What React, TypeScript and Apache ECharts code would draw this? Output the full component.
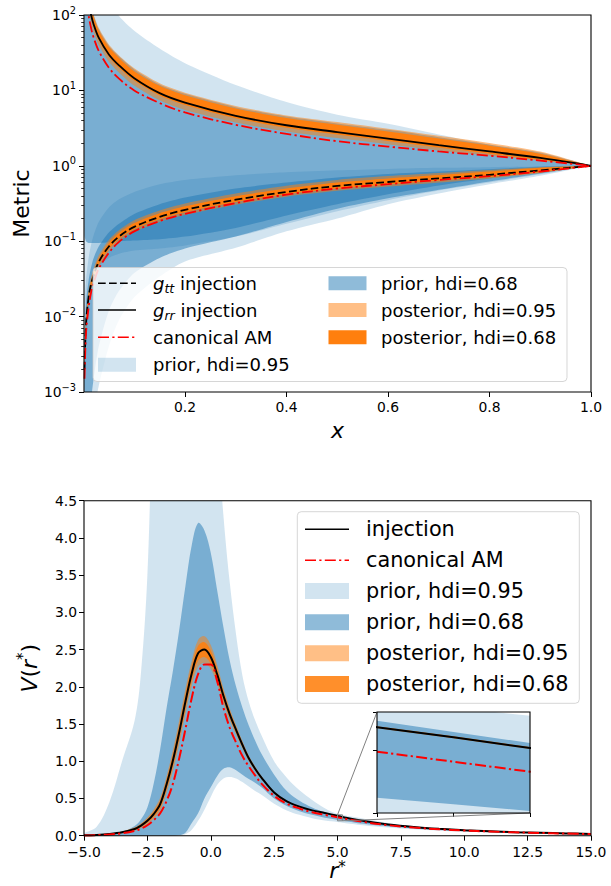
import React, { useEffect, useRef } from 'react';
import * as echarts from 'echarts';

const FONT = 'DejaVu Sans';

// ---------------- top panel: metric vs x ----------------
const X_GRID = [0.002, 0.005, 0.01, 0.015, 0.02, 0.03, 0.05, 0.07, 0.1, 0.15, 0.2, 0.3, 0.4, 0.5, 0.6, 0.7, 0.8, 0.9, 1.0];
const GTT_INJ = [0.002, 0.008, 0.018, 0.027, 0.035, 0.053, 0.085, 0.115, 0.155, 0.21, 0.26, 0.355, 0.45, 0.54, 0.61, 0.68, 0.76, 0.87, 1.0];
const GRR_INJ = [700, 300, 150, 100, 75, 50, 30, 21.5, 14.5, 9.2, 6.9, 4.6, 3.45, 2.8, 2.3, 1.88, 1.55, 1.27, 1.0];
const GTT_AM = [0.0015, 0.006, 0.013, 0.021, 0.028, 0.043, 0.07, 0.098, 0.135, 0.185, 0.23, 0.32, 0.415, 0.5, 0.57, 0.65, 0.73, 0.84, 1.0];
const GRR_AM = [500, 200, 100, 67, 50, 33.5, 20, 14.3, 10, 6.8, 5.1, 3.5, 2.65, 2.12, 1.8, 1.55, 1.36, 1.17, 1.0];

const GRR_PRIOR95_HI = [10000, 5000, 2000, 1000, 700, 400, 170, 97, 62, 36, 23, 11.8, 7.0, 4.75, 3.6, 2.6, 1.9, 1.42, 1.0];
const GRR_PRIOR95_LO = [0.001, 0.004, 0.012, 0.022, 0.032, 0.046, 0.06, 0.068, 0.075, 0.08, 0.088, 0.115, 0.17, 0.25, 0.35, 0.47, 0.6, 0.77, 1.0];
const GRR_PRIOR68_HI = [920, 395, 197, 131, 99, 65, 39, 28.3, 19, 12, 9, 6.0, 4.5, 3.65, 3.0, 2.4, 1.92, 1.5, 1.0];
const GRR_PRIOR68_LO = [0.12, 0.1, 0.095, 0.095, 0.095, 0.095, 0.097, 0.1, 0.102, 0.106, 0.115, 0.15, 0.22, 0.31, 0.42, 0.55, 0.68, 0.83, 1.0];
const GTT_PRIOR95_HI = [0.01, 0.03, 0.06, 0.09, 0.12, 0.18, 0.28, 0.36, 0.45, 0.57, 0.65, 0.75, 0.82, 0.87, 0.91, 0.94, 0.96, 0.98, 1.0];
const GTT_PRIOR95_LO = [1e-6, 1e-5, 1e-4, 2e-4, 5e-4, 0.0012, 0.004, 0.009, 0.018, 0.034, 0.054, 0.082, 0.135, 0.2, 0.31, 0.43, 0.57, 0.74, 1.0];
const GTT_PRIOR68_HI = [0.004, 0.015, 0.03, 0.045, 0.06, 0.085, 0.13, 0.17, 0.23, 0.31, 0.38, 0.5, 0.6, 0.7, 0.78, 0.84, 0.9, 0.97, 1.0];
const GTT_PRIOR68_LO = [1e-5, 1e-4, 4e-4, 8e-4, 0.0015, 0.004, 0.012, 0.022, 0.038, 0.06, 0.08, 0.115, 0.18, 0.27, 0.37, 0.48, 0.62, 0.79, 1.0];

const GRR_POST95_HI = [945, 405, 202, 135, 101, 67.5, 40.5, 29, 19.6, 12.4, 9.3, 6.2, 4.65, 3.8, 3.1, 2.5, 2.0, 1.55, 1.0];
const GRR_POST95_LO = [560, 240, 120, 80, 60, 40, 24, 17.2, 11.6, 7.4, 5.5, 3.75, 2.85, 2.33, 1.93, 1.6, 1.37, 1.17, 1.0];
const GRR_POST68_HI = [875, 375, 188, 125, 94, 62, 37.5, 27, 18, 11.5, 8.6, 5.75, 4.3, 3.5, 2.85, 2.3, 1.85, 1.45, 1.0];
const GRR_POST68_LO = [650, 280, 140, 93, 70, 46.5, 28, 20, 13.5, 8.55, 6.4, 4.28, 3.2, 2.6, 2.14, 1.75, 1.45, 1.2, 1.0];
const GTT_POST95_HI = [0.0024, 0.0098, 0.022, 0.033, 0.043, 0.065, 0.104, 0.14, 0.19, 0.256, 0.317, 0.43, 0.545, 0.65, 0.73, 0.8, 0.88, 0.96, 1.0];
const GTT_POST95_LO = [0.0017, 0.0069, 0.0155, 0.023, 0.03, 0.0455, 0.073, 0.099, 0.133, 0.18, 0.224, 0.305, 0.39, 0.465, 0.53, 0.6, 0.68, 0.8, 1.0];
const GTT_POST68_HI = [0.0022, 0.009, 0.02, 0.03, 0.039, 0.059, 0.095, 0.129, 0.174, 0.235, 0.29, 0.395, 0.5, 0.6, 0.68, 0.755, 0.84, 0.94, 1.0];
const GTT_POST68_LO = [0.0019, 0.0074, 0.0167, 0.025, 0.0326, 0.049, 0.079, 0.107, 0.144, 0.195, 0.242, 0.33, 0.42, 0.5, 0.567, 0.635, 0.71, 0.82, 1.0];

const TOP_X_TICKS = [0.2, 0.4, 0.6, 0.8, 1.0];
const TOP_Y_TICKS = [0.001, 0.01, 0.1, 1, 10, 100];

// ---------------- bottom panel: V(r*) ----------------
const R_GRID = [-5, -4.5, -4, -3.5, -3, -2.75, -2.5, -2.25, -2, -1.75, -1.5, -1.25, -1, -0.75, -0.5, -0.25, 0, 0.25, 0.5, 0.75, 1, 1.25, 1.5, 1.75, 2, 2.5, 3, 3.5, 4, 4.5, 5, 5.1, 5.2, 6, 7, 8, 9, 10, 11, 12, 13, 14, 15];
const V_INJ = [0.005, 0.01, 0.022, 0.045, 0.09, 0.135, 0.2, 0.29, 0.42, 0.68, 1.0, 1.38, 1.8, 2.18, 2.45, 2.5, 2.4, 2.17, 1.88, 1.63, 1.42, 1.22, 1.04, 0.9, 0.78, 0.58, 0.46, 0.39, 0.34, 0.305, 0.268, 0.26, 0.2515, 0.2, 0.152, 0.118, 0.093, 0.074, 0.06, 0.048, 0.039, 0.031, 0.024];
const V_AM = [0.003, 0.007, 0.016, 0.032, 0.065, 0.095, 0.14, 0.21, 0.3, 0.46, 0.69, 1.03, 1.43, 1.85, 2.17, 2.3, 2.3, 2.08, 1.72, 1.45, 1.25, 1.07, 0.93, 0.81, 0.7, 0.535, 0.43, 0.365, 0.315, 0.28, 0.2486, 0.2406, 0.2327, 0.186, 0.141, 0.109, 0.086, 0.069, 0.056, 0.045, 0.037, 0.029, 0.022];
const V_PRIOR95_HI = [0.03, 0.12, 0.45, 1.0, 1.55, 2.2, 3.5, 6, 7, 8, 9, 9.5, 10, 10, 9.5, 8.5, 7, 5.5, 4.3, 3.4, 2.7, 2.15, 1.8, 1.55, 1.35, 1.0, 0.78, 0.61, 0.48, 0.37, 0.29, 0.2835, 0.277, 0.23, 0.17, 0.13, 0.1, 0.08, 0.065, 0.052, 0.042, 0.034, 0.027];
const V_PRIOR95_LO = [0, 0, 0, 0, 0, 0, 0, 0, 0, 0, 0.003, 0.01, 0.02, 0.08, 0.2, 0.35, 0.52, 0.68, 0.77, 0.79, 0.77, 0.72, 0.66, 0.6, 0.55, 0.43, 0.34, 0.28, 0.235, 0.205, 0.185, 0.18, 0.175, 0.14, 0.11, 0.085, 0.067, 0.053, 0.043, 0.034, 0.027, 0.021, 0.016];
const V_PRIOR68_HI = [0.01, 0.015, 0.025, 0.05, 0.13, 0.22, 0.38, 0.7, 1.15, 1.7, 2.2, 2.75, 3.35, 3.9, 4.2, 4.1, 3.8, 3.3, 2.8, 2.35, 2.0, 1.72, 1.48, 1.28, 1.1, 0.82, 0.6, 0.47, 0.38, 0.315, 0.273, 0.2642, 0.2554, 0.205, 0.156, 0.121, 0.095, 0.076, 0.062, 0.05, 0.04, 0.032, 0.025];
const V_PRIOR68_LO = [0, 0, 0, 0, 0, 0, 0, 0, 0, 0, 0, 0.005, 0.04, 0.17, 0.3, 0.5, 0.65, 0.8, 0.9, 0.92, 0.88, 0.82, 0.76, 0.71, 0.65, 0.5, 0.4, 0.33, 0.28, 0.24, 0.212, 0.207, 0.2016, 0.16, 0.125, 0.097, 0.077, 0.062, 0.05, 0.04, 0.032, 0.025, 0.019];
const V_POST95_HI = [0.007, 0.013, 0.029, 0.058, 0.114, 0.168, 0.245, 0.352, 0.505, 0.79, 1.14, 1.54, 1.97, 2.35, 2.63, 2.68, 2.56, 2.3, 1.98, 1.71, 1.485, 1.27, 1.078, 0.928, 0.8, 0.592, 0.467, 0.394, 0.3425, 0.3065, 0.2688, 0.2608, 0.2523, 0.2015, 0.1535, 0.1195, 0.0945, 0.0755, 0.0615, 0.0495, 0.0405, 0.0325, 0.0255];
const V_POST95_LO = [0.003, 0.007, 0.015, 0.032, 0.066, 0.102, 0.155, 0.228, 0.335, 0.57, 0.86, 1.22, 1.63, 2.01, 2.27, 2.32, 2.24, 2.04, 1.78, 1.55, 1.355, 1.17, 1.002, 0.872, 0.76, 0.568, 0.453, 0.386, 0.3375, 0.3035, 0.2672, 0.2592, 0.2507, 0.1985, 0.1505, 0.1165, 0.0915, 0.0725, 0.0585, 0.0465, 0.0375, 0.0295, 0.0225];
const V_POST68_HI = [0.006, 0.012, 0.026, 0.052, 0.103, 0.153, 0.225, 0.325, 0.47, 0.745, 1.08, 1.47, 1.9, 2.28, 2.55, 2.6, 2.49, 2.245, 1.94, 1.68, 1.46, 1.25, 1.062, 0.916, 0.792, 0.587, 0.464, 0.3925, 0.3415, 0.306, 0.2685, 0.2605, 0.252, 0.201, 0.153, 0.119, 0.094, 0.075, 0.061, 0.049, 0.04, 0.032, 0.025];
const V_POST68_LO = [0.004, 0.008, 0.018, 0.038, 0.077, 0.117, 0.175, 0.255, 0.37, 0.615, 0.92, 1.29, 1.7, 2.08, 2.35, 2.4, 2.31, 2.095, 1.82, 1.58, 1.38, 1.19, 1.018, 0.884, 0.768, 0.573, 0.456, 0.3875, 0.3385, 0.304, 0.2675, 0.2595, 0.251, 0.199, 0.151, 0.117, 0.092, 0.073, 0.059, 0.047, 0.038, 0.03, 0.023];

const INSET_XLIM = [5.0, 5.2];
const INSET_YLIM = [0.2, 0.28];

// ---------------- styles / layout ----------------
const C_PRIOR95 = 'rgba(31,119,180,0.2)';
const C_PRIOR68 = 'rgba(31,119,180,0.5)';
const C_POST95 = 'rgba(255,127,14,0.5)';
const C_POST68_TOP = 'rgba(255,127,14,1)';
const C_POST68_BOT = 'rgba(255,127,14,0.88)';
const DASH = [7.7, 3.3];
const DASHDOT = [11, 3.3, 2.2, 3.3];

const G_TOP = { left: 84, top: 15, width: 507, height: 377 };
const G_BOT = { left: 84, top: 500.7, width: 507, height: 335 };
const G_INS = { left: 377, top: 712, width: 153, height: 101 };

function band(xs: number[], lo: number[], hi: number[], fill: string, xi: number, yi: number, z = 2, smooth = 0) {
  return {
    type: 'custom',
    xAxisIndex: xi,
    yAxisIndex: yi,
    silent: true,
    z,
    data: [[xs[xs.length - 1], hi[hi.length - 1]]],
    renderItem: (params: any, api: any) => {
      const pts: number[][] = [];
      for (let i = 0; i < xs.length; i++) pts.push(api.coord([xs[i], hi[i]]));
      for (let i = xs.length - 1; i >= 0; i--) pts.push(api.coord([xs[i], lo[i]]));
      const cs = params.coordSys;
      return {
        type: 'polygon',
        shape: { points: pts, smooth },
        style: { fill, stroke: null, lineWidth: 0 },
        clipPath: { type: 'rect', shape: { x: cs.x, y: cs.y, width: cs.width, height: cs.height } },
      };
    },
  };
}

function curve(xs: number[], ys: number[], color: string, type: any, xi: number, yi: number, width = 1.8, smooth: number | boolean = false) {
  return {
    type: 'line',
    xAxisIndex: xi,
    yAxisIndex: yi,
    data: xs.map((x, i) => [x, ys[i]]),
    showSymbol: false,
    symbol: 'none',
    silent: true,
    clip: true,
    smooth,
    z: 5,
    lineStyle: { color, width, type },
  };
}

const minus = (s: string) => s.replace('-', '\u2212');

function legendElements(
  box: { x: number; y: number; w: number; h: number },
  items: { kind: 'line' | 'patch'; color: string; dash?: number[]; text: string; hx: number; tx: number; y: number }[],
  fontSize: number,
  handleW: number,
  patchH: number,
) {
  const rich = {
    n: { fontSize, fontFamily: FONT, fill: '#000', lineHeight: fontSize * 1.35, verticalAlign: 'middle' },
    i: { fontSize, fontFamily: FONT, fontStyle: 'italic', fill: '#000', lineHeight: fontSize * 1.35, verticalAlign: 'middle' },
    s: { fontSize: fontSize * 0.7, fontFamily: FONT, fontStyle: 'italic', fill: '#000', lineHeight: fontSize * 0.78, verticalAlign: 'bottom' },
  };
  const els: any[] = [
    {
      type: 'rect',
      z: 100,
      shape: { x: box.x, y: box.y, width: box.w, height: box.h, r: 4 },
      style: { fill: 'rgba(255,255,255,0.8)', stroke: 'rgba(204,204,204,0.8)', lineWidth: 1 },
    },
  ];
  items.forEach((it) => {
    if (it.kind === 'line') {
      els.push({
        type: 'line',
        z: 101,
        shape: { x1: it.hx, y1: it.y, x2: it.hx + handleW, y2: it.y },
        style: { stroke: it.color, lineWidth: 1.6, lineDash: it.dash || null },
      });
    } else {
      els.push({
        type: 'rect',
        z: 101,
        shape: { x: it.hx, y: it.y - patchH / 2, width: handleW, height: patchH },
        style: { fill: it.color },
      });
    }
    els.push({
      type: 'text',
      z: 101,
      x: it.tx,
      y: it.y,
      style: { text: it.text, rich, fontSize, fontFamily: FONT, fill: '#000', align: 'left', verticalAlign: 'middle' },
    });
  });
  return els;
}

export default function App() {
  const ref = useRef<HTMLDivElement>(null);
  useEffect(() => {
    if (!ref.current) return;
    const chart = echarts.init(ref.current, null, { renderer: 'svg' });

    const minorTicks: number[] = [];
    for (let k = -3; k <= 1; k++) for (let m = 2; m <= 9; m++) minorTicks.push(+(m * Math.pow(10, k)).toPrecision(3));

    const tickStyle = { color: '#000', fontSize: 13.9, fontFamily: FONT };
    const axisTick = (len: number, extra: any = {}) => ({ show: true, length: len, lineStyle: { color: '#000', width: 1 }, ...extra });
    const noLine = { show: false, onZero: false };
    const nameStyle = { fontSize: 22, fontFamily: FONT, color: '#000' };
    const gridBase = { show: true, borderColor: '#000', borderWidth: 1.1, backgroundColor: 'transparent', z: 50, containLabel: false, outerBoundsMode: 'none' };

    const topLegendItems = [
      { kind: 'line' as const, color: '#000', dash: DASH, text: '{i|g}{s|tt}{n| injection}', hx: 98, tx: 153, y: 283.3 },
      { kind: 'line' as const, color: '#000', text: '{i|g}{s|rr}{n| injection}', hx: 98, tx: 153, y: 310 },
      { kind: 'line' as const, color: '#ff0000', dash: DASHDOT, text: '{n|canonical AM}', hx: 98, tx: 153, y: 337.3 },
      { kind: 'patch' as const, color: C_PRIOR95, text: '{n|prior, hdi=0.95}', hx: 98, tx: 153, y: 364.7 },
      { kind: 'patch' as const, color: C_PRIOR68, text: '{n|prior, hdi=0.68}', hx: 328.5, tx: 381, y: 283.3 },
      { kind: 'patch' as const, color: C_POST95, text: '{n|posterior, hdi=0.95}', hx: 328.5, tx: 381, y: 310 },
      { kind: 'patch' as const, color: C_POST68_TOP, text: '{n|posterior, hdi=0.68}', hx: 328.5, tx: 381, y: 337.3 },
    ];
    const botLegendItems = [
      { kind: 'line' as const, color: '#000', text: '{n|injection}', hx: 305, tx: 366, y: 529.3 },
      { kind: 'line' as const, color: '#ff0000', dash: DASHDOT, text: '{n|canonical AM}', hx: 305, tx: 366, y: 560.3 },
      { kind: 'patch' as const, color: C_PRIOR95, text: '{n|prior, hdi=0.95}', hx: 305, tx: 366, y: 591 },
      { kind: 'patch' as const, color: C_PRIOR68, text: '{n|prior, hdi=0.68}', hx: 305, tx: 366, y: 622.3 },
      { kind: 'patch' as const, color: C_POST95, text: '{n|posterior, hdi=0.95}', hx: 305, tx: 366, y: 653.3 },
      { kind: 'patch' as const, color: C_POST68_BOT, text: '{n|posterior, hdi=0.68}', hx: 305, tx: 366, y: 684 },
    ];

    const SM = 0.35;

    const option: any = {
      animation: false,
      textStyle: { fontFamily: FONT },
      grid: [
        { ...gridBase, ...G_TOP },
        { ...gridBase, ...G_BOT },
        { ...gridBase, ...G_INS },
      ],
      xAxis: [
        {
          gridIndex: 0, type: 'value', min: 0.001, max: 1,
          axisLine: noLine, splitLine: { show: false },
          axisTick: axisTick(5, { customValues: TOP_X_TICKS }),
          axisLabel: { ...tickStyle, margin: 8, customValues: TOP_X_TICKS, formatter: (v: number) => v.toFixed(1) },
          name: 'x', nameLocation: 'middle', nameGap: 27, nameTextStyle: { ...nameStyle, fontStyle: 'italic' },
        },
        {
          gridIndex: 1, type: 'value', min: -5, max: 15, interval: 2.5,
          axisLine: noLine, splitLine: { show: false },
          axisTick: axisTick(5),
          axisLabel: { ...tickStyle, margin: 9, formatter: (v: number) => minus(v.toFixed(1)) },
          name: '{i|r}{s|*}', nameLocation: 'middle', nameGap: 24,
          nameTextStyle: {
            ...nameStyle,
            rich: {
              i: { fontSize: 22, fontFamily: FONT, fontStyle: 'italic', color: '#000', lineHeight: 22, verticalAlign: 'middle' },
              s: { fontSize: 15, fontFamily: FONT, color: '#000', lineHeight: 19, verticalAlign: 'top' },
            },
          },
        },
        {
          gridIndex: 2, type: 'value', min: INSET_XLIM[0], max: INSET_XLIM[1], interval: 0.1,
          axisLine: noLine, splitLine: { show: false },
          axisTick: axisTick(4), axisLabel: { show: false },
        },
      ],
      yAxis: [
        {
          gridIndex: 0, type: 'log', logBase: 10, min: 0.001, max: 100, position: 'left',
          axisLine: noLine, splitLine: { show: false },
          axisTick: axisTick(5, { customValues: TOP_Y_TICKS }),
          axisLabel: {
            margin: 8, customValues: TOP_Y_TICKS,
            formatter: (v: number) => {
              const e = Math.round(Math.log10(v));
              return '{a|10}{b|' + (e < 0 ? '\u2212' + -e : String(e)) + '}';
            },
            rich: {
              a: { fontSize: 13.9, fontFamily: FONT, color: '#000', lineHeight: 20, verticalAlign: 'middle' },
              b: { fontSize: 9.8, fontFamily: FONT, color: '#000', lineHeight: 13, verticalAlign: 'top' },
            },
          },
          name: 'Metric', nameLocation: 'middle', nameRotate: 90, nameGap: 49, nameTextStyle: nameStyle,
        },
        {
          gridIndex: 0, type: 'log', logBase: 10, min: 0.001, max: 100, position: 'left',
          axisLine: noLine, splitLine: { show: false },
          axisTick: { show: true, length: 2.8, lineStyle: { color: '#000', width: 0.8 }, customValues: minorTicks },
          axisLabel: { show: false },
        },
        {
          gridIndex: 1, type: 'value', min: 0, max: 4.5, interval: 0.5, position: 'left',
          axisLine: noLine, splitLine: { show: false },
          axisTick: axisTick(5),
          axisLabel: { ...tickStyle, margin: 7, formatter: (v: number) => v.toFixed(1) },
          name: '{i|V}{n|(}{i|r}{s|*}{n|)}', nameLocation: 'middle', nameRotate: 90, nameGap: 41,
          nameTextStyle: {
            ...nameStyle,
            rich: {
              n: { fontSize: 22, fontFamily: FONT, color: '#000', lineHeight: 28, verticalAlign: 'middle' },
              i: { fontSize: 22, fontFamily: FONT, fontStyle: 'italic', color: '#000', lineHeight: 28, verticalAlign: 'middle' },
              s: { fontSize: 15, fontFamily: FONT, color: '#000', lineHeight: 20, verticalAlign: 'top' },
            },
          },
        },
        {
          gridIndex: 2, type: 'value', min: INSET_YLIM[0], max: INSET_YLIM[1], interval: 0.05, position: 'left',
          axisLine: noLine, splitLine: { show: false },
          axisTick: axisTick(4), axisLabel: { show: false },
        },
      ],
      series: [
        // top panel priors
        band(X_GRID, GTT_PRIOR95_LO, GTT_PRIOR95_HI, C_PRIOR95, 0, 0, 2, 0.25),
        band(X_GRID, GTT_PRIOR68_LO, GTT_PRIOR68_HI, C_PRIOR68, 0, 0, 2, 0.25),
        band(X_GRID, GRR_PRIOR95_LO, GRR_PRIOR95_HI, C_PRIOR95, 0, 0, 2, 0.25),
        band(X_GRID, GRR_PRIOR68_LO, GRR_PRIOR68_HI, C_PRIOR68, 0, 0, 2, 0.25),
        // top panel posteriors
        band(X_GRID, GTT_POST95_LO, GTT_POST95_HI, C_POST95, 0, 0, 3, 0.25),
        band(X_GRID, GTT_POST68_LO, GTT_POST68_HI, C_POST68_TOP, 0, 0, 3, 0.25),
        band(X_GRID, GRR_POST95_LO, GRR_POST95_HI, C_POST95, 0, 0, 3, 0.25),
        band(X_GRID, GRR_POST68_LO, GRR_POST68_HI, C_POST68_TOP, 0, 0, 3, 0.25),
        // top panel lines
        curve(X_GRID, GTT_INJ, '#000', DASH, 0, 0, 1.8, SM),
        curve(X_GRID, GRR_INJ, '#000', 'solid', 0, 0, 1.8, SM),
        curve(X_GRID, GTT_AM, '#ff0000', DASHDOT, 0, 0, 1.8, SM),
        curve(X_GRID, GRR_AM, '#ff0000', DASHDOT, 0, 0, 1.8, SM),

        // bottom panel
        band(R_GRID, V_PRIOR95_LO, V_PRIOR95_HI, C_PRIOR95, 1, 2, 2, SM),
        band(R_GRID, V_PRIOR68_LO, V_PRIOR68_HI, C_PRIOR68, 1, 2, 2, SM),
        band(R_GRID, V_POST95_LO, V_POST95_HI, C_POST95, 1, 2, 3, SM),
        band(R_GRID, V_POST68_LO, V_POST68_HI, C_POST68_BOT, 1, 2, 3, SM),
        curve(R_GRID, V_INJ, '#000', 'solid', 1, 2, 2, SM),
        curve(R_GRID, V_AM, '#ff0000', DASHDOT, 1, 2, 2, SM),

        // inset
        band(R_GRID, V_PRIOR95_LO, V_PRIOR95_HI, C_PRIOR95, 2, 3),
        band(R_GRID, V_PRIOR68_LO, V_PRIOR68_HI, C_PRIOR68, 2, 3),
        band(R_GRID, V_POST95_LO, V_POST95_HI, C_POST95, 2, 3, 3),
        band(R_GRID, V_POST68_LO, V_POST68_HI, C_POST68_BOT, 2, 3, 3),
        curve(R_GRID, V_INJ, '#000', 'solid', 2, 3, 2),
        curve(R_GRID, V_AM, '#ff0000', DASHDOT, 2, 3, 2),

        // inset marker (rectangle + connectors)
        {
          type: 'custom', xAxisIndex: 1, yAxisIndex: 2, silent: true, z: 20,
          data: [[INSET_XLIM[0], INSET_YLIM[0]]],
          renderItem: (_p: any, api: any) => {
            const tl = api.coord([INSET_XLIM[0], INSET_YLIM[1]]);
            const br = api.coord([INSET_XLIM[1], INSET_YLIM[0]]);
            const st = { fill: null, stroke: '#808080', lineWidth: 1 };
            return {
              type: 'group',
              children: [
                { type: 'rect', shape: { x: tl[0], y: tl[1], width: br[0] - tl[0], height: br[1] - tl[1] }, style: st },
                { type: 'line', shape: { x1: G_INS.left, y1: G_INS.top, x2: tl[0], y2: tl[1] }, style: st },
                { type: 'line', shape: { x1: G_INS.left + G_INS.width, y1: G_INS.top + G_INS.height, x2: br[0], y2: br[1] }, style: st },
              ],
            };
          },
        },
      ],
      graphic: [
        ...legendElements({ x: 93, y: 267.5, w: 474, h: 114 }, topLegendItems, 18, 38, 14),
        ...legendElements({ x: 297.3, y: 511.7, w: 282, h: 191.6 }, botLegendItems, 20.8, 44, 16),
      ],
    };

    chart.setOption(option);
    return () => chart.dispose();
  }, []);

  return <div ref={ref} style={{ position: 'absolute', left: 0, top: 0, width: 611, height: 886 }} />;
}
